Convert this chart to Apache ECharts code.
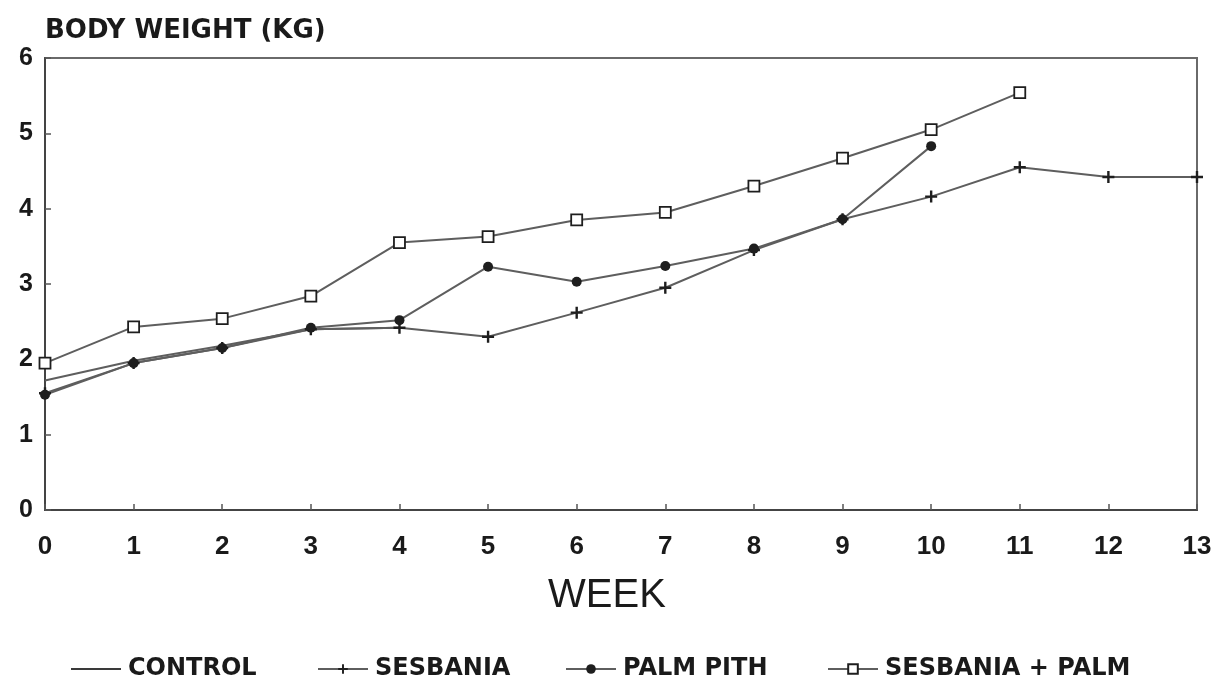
<!DOCTYPE html>
<html>
<head>
<meta charset="utf-8">
<script src="https://cdn.jsdelivr.net/npm/echarts@6/dist/echarts.min.js"></script>
<style>
  html, body { margin: 0; padding: 0; background: #fff; }
  #chart { width: 1217px; height: 681px; }
</style>
</head>
<body>
<div id="chart"></div>
<script>
// Weeks on the horizontal axis
const weeks = [0, 1, 2, 3, 4, 5, 6, 7, 8, 9, 10, 11, 12, 13];

// Body weight (kg) per week for each diet group
const control = [1.72, 1.98, 2.18, 2.40, 2.42];
const sesbania = [1.55, 1.95, 2.15, 2.40, 2.42, 2.30, 2.62, 2.95, 3.45, 3.86, 4.16, 4.55, 4.42, 4.42];
const palmPith = [1.53, 1.95, 2.15, 2.42, 2.52, 3.23, 3.03, 3.24, 3.47, 3.86, 4.83];
const sesbaniaPalm = [1.95, 2.43, 2.54, 2.84, 3.55, 3.63, 3.85, 3.95, 4.30, 4.67, 5.05, 5.54];

const seriesNames = ['CONTROL', 'SESBANIA', 'PALM PITH', 'SESBANIA + PALM'];

const toPairs = arr => arr.map((v, i) => [weeks[i], v]);

const LINE = '#5e5e5e';
const MARK = '#1e1e1e';
const FONT = 'Liberation Sans';
const BOLD = 'DejaVu Sans';

const plus = 'path://M4,0h2v4h4v2h-4v4h-2v-4h-4v-2h4z';

function lineSeries(name, data, extra) {
  return Object.assign({
    name: name,
    type: 'line',
    data: toPairs(data),
    lineStyle: { color: LINE, width: 2 },
    itemStyle: { color: MARK },
    symbolSize: 10,
    animation: false,
    z: 3
  }, extra);
}

const legendBase = {
  top: 652,
  itemWidth: 50,
  itemHeight: 12,
  itemGap: 0,
  textStyle: { fontFamily: BOLD, fontWeight: 'bold', fontSize: 24, color: '#1a1a1a', padding: [0, 0, 0, 2] }
};
const legendLefts = [66, 312, 560, 822];
// the control line has no markers, so its key is a plain stroke
const legendData = [
  { name: 'CONTROL', icon: 'path://M0,0h50v2h-50z', itemStyle: { color: '#3a3a3a' } },
  { name: 'SESBANIA' },
  { name: 'PALM PITH' },
  { name: 'SESBANIA + PALM' }
];

const chart = echarts.init(document.getElementById('chart'));
chart.setOption({
  backgroundColor: '#fff',
  animation: false,
  grid: {
    left: 45, right: 20, top: 58, bottom: 171,
    show: true, borderColor: '#6a6a6a', borderWidth: 2, backgroundColor: 'transparent'
  },
  legend: legendData.map((d, i) => Object.assign({}, legendBase, { data: [d], left: legendLefts[i] })),
  xAxis: {
    type: 'value',
    min: 0, max: 13, interval: 1,
    name: 'WEEK',
    nameLocation: 'middle',
    nameGap: 66,
    nameTextStyle: { fontFamily: FONT, fontSize: 40, color: '#1a1a1a', padding: [0, 28, 0, 0] },
    axisLine: { show: true, lineStyle: { color: '#444', width: 2 } },
    axisTick: { show: true, inside: true, length: 6, lineStyle: { color: '#555', width: 1.5 } },
    axisLabel: { fontFamily: FONT, fontWeight: 'bold', fontSize: 26, color: '#1a1a1a', margin: 24 },
    splitLine: { show: false }
  },
  yAxis: {
    type: 'value',
    min: 0, max: 6, interval: 1,
    name: 'BODY WEIGHT (KG)',
    nameLocation: 'end',
    nameGap: 14,
    nameTextStyle: { fontFamily: BOLD, fontWeight: 'bold', fontSize: 26, color: '#1a1a1a', align: 'left' },
    axisLine: { show: true, lineStyle: { color: '#444', width: 2 } },
    axisTick: { show: true, inside: true, length: 6, lineStyle: { color: '#555', width: 1.5 } },
    axisLabel: { fontFamily: FONT, fontWeight: 'bold', fontSize: 25, color: '#1a1a1a', margin: 12 },
    splitLine: { show: false }
  },
  series: [
    lineSeries('CONTROL', control, { symbol: 'none', showSymbol: false }),
    lineSeries('SESBANIA', sesbania, { symbol: plus, symbolSize: 12 }),
    lineSeries('PALM PITH', palmPith, { symbol: 'circle', symbolSize: 10 }),
    lineSeries('SESBANIA + PALM', sesbaniaPalm, {
      symbol: 'rect', symbolSize: 11,
      itemStyle: { color: '#fff', borderColor: MARK, borderWidth: 1.8 }
    })
  ]
});
</script>
</body>
</html>
